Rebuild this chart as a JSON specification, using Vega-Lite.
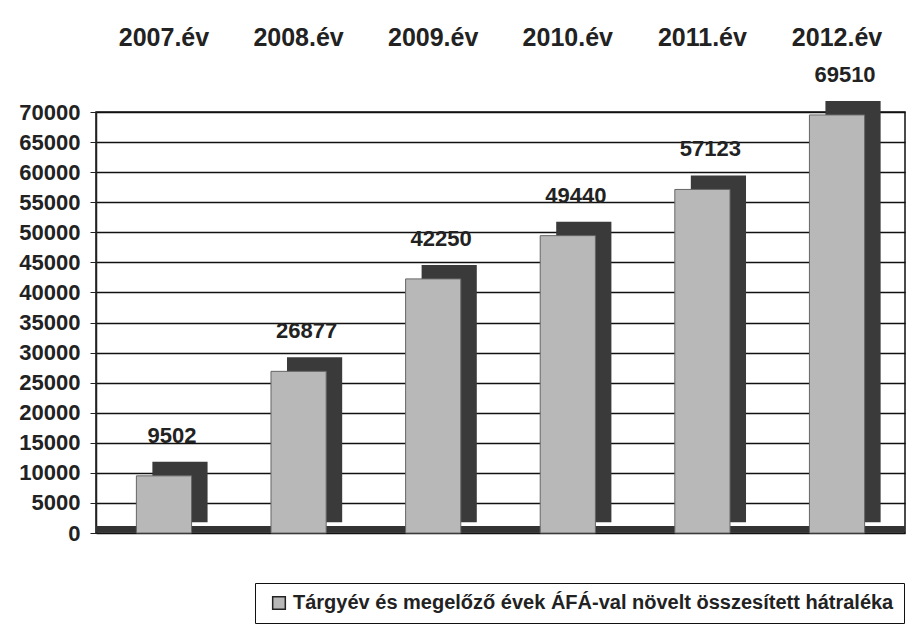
{
  "$schema": "https://vega.github.io/schema/vega-lite/v6.json",
  "autosize": {"type": "none"},
  "width": 809,
  "height": 421,
  "padding": {"left": 96, "top": 112, "right": 13, "bottom": 104},
  "background": "white",
  "config": {
    "view": {"stroke": "#111", "strokeWidth": 1.5},
    "font": "Liberation Sans"
  },
  "data": {
    "values": [
      {"year": "2007.év", "value": 9502, "series": "Tárgyév és megelőző évek ÁFÁ-val növelt összesített hátraléka"},
      {"year": "2008.év", "value": 26877, "series": "Tárgyév és megelőző évek ÁFÁ-val növelt összesített hátraléka"},
      {"year": "2009.év", "value": 42250, "series": "Tárgyév és megelőző évek ÁFÁ-val növelt összesített hátraléka"},
      {"year": "2010.év", "value": 49440, "series": "Tárgyév és megelőző évek ÁFÁ-val növelt összesített hátraléka"},
      {"year": "2011.év", "value": 57123, "series": "Tárgyév és megelőző évek ÁFÁ-val növelt összesített hátraléka"},
      {"year": "2012.év", "value": 69510, "series": "Tárgyév és megelőző évek ÁFÁ-val növelt összesített hátraléka"}
    ]
  },
  "encoding": {
    "x": {
      "field": "year", "type": "nominal", "sort": null,
      "scale": {"paddingInner": 0.59, "paddingOuter": 0.3},
      "axis": {
        "orient": "top", "title": null, "labelAngle": 0,
        "labelFontSize": 25, "labelFontWeight": "bold", "labelColor": "#222",
        "labelPadding": 62, "ticks": false, "domain": false
      }
    },
    "y": {
      "field": "value", "type": "quantitative",
      "scale": {"domain": [0, 70000]},
      "axis": {
        "title": null, "values": [0,5000,10000,15000,20000,25000,30000,35000,40000,45000,50000,55000,60000,65000,70000],
        "format": "d", "labelFontSize": 22, "labelFontWeight": "bold", "labelColor": "#222",
        "labelPadding": 10, "tickSize": 6, "tickColor": "#222", "domainColor": "#222", "domainWidth": 1.5,
        "grid": true, "gridColor": "#111", "gridWidth": 1.5
      }
    }
  },
  "layer": [
    {
      "mark": {"type": "rule", "color": "#333", "strokeWidth": 6, "yOffset": -4},
      "encoding": {"y": {"datum": 0}, "x": {"value": 0}, "x2": {"value": 809}}
    },
    {
      "mark": {"type": "bar", "color": "#3a3a3a", "xOffset": 16, "yOffset": -14},
      "encoding": {"y": {"field": "value", "type": "quantitative"}, "y2": {"datum": 1800}}
    },
    {
      "mark": {"type": "bar", "stroke": "#666", "strokeWidth": 1},
      "encoding": {
        "y": {"field": "value", "type": "quantitative"},
        "color": {
          "field": "series", "type": "nominal",
          "scale": {"range": ["#b8b8b8"]},
          "legend": {
            "title": null, "orient": "none", "legendX": 159, "legendY": 471,
            "direction": "horizontal", "symbolType": "square", "symbolSize": 160,
            "symbolStrokeColor": "#222", "symbolStrokeWidth": 1.5, "symbolOffset": 4,
            "labelFontSize": 20, "labelFontWeight": "bold", "labelColor": "#222", "labelLimit": 700,
            "strokeColor": "#111", "padding": 10, "fillColor": "white"
          }
        }
      }
    },
    {
      "mark": {"type": "text", "dy": -40, "dx": 8, "fontSize": 22, "fontWeight": "bold", "color": "#222"},
      "encoding": {
        "y": {"field": "value", "type": "quantitative"},
        "text": {"field": "value", "type": "quantitative", "format": "d"}
      }
    }
  ]
}
